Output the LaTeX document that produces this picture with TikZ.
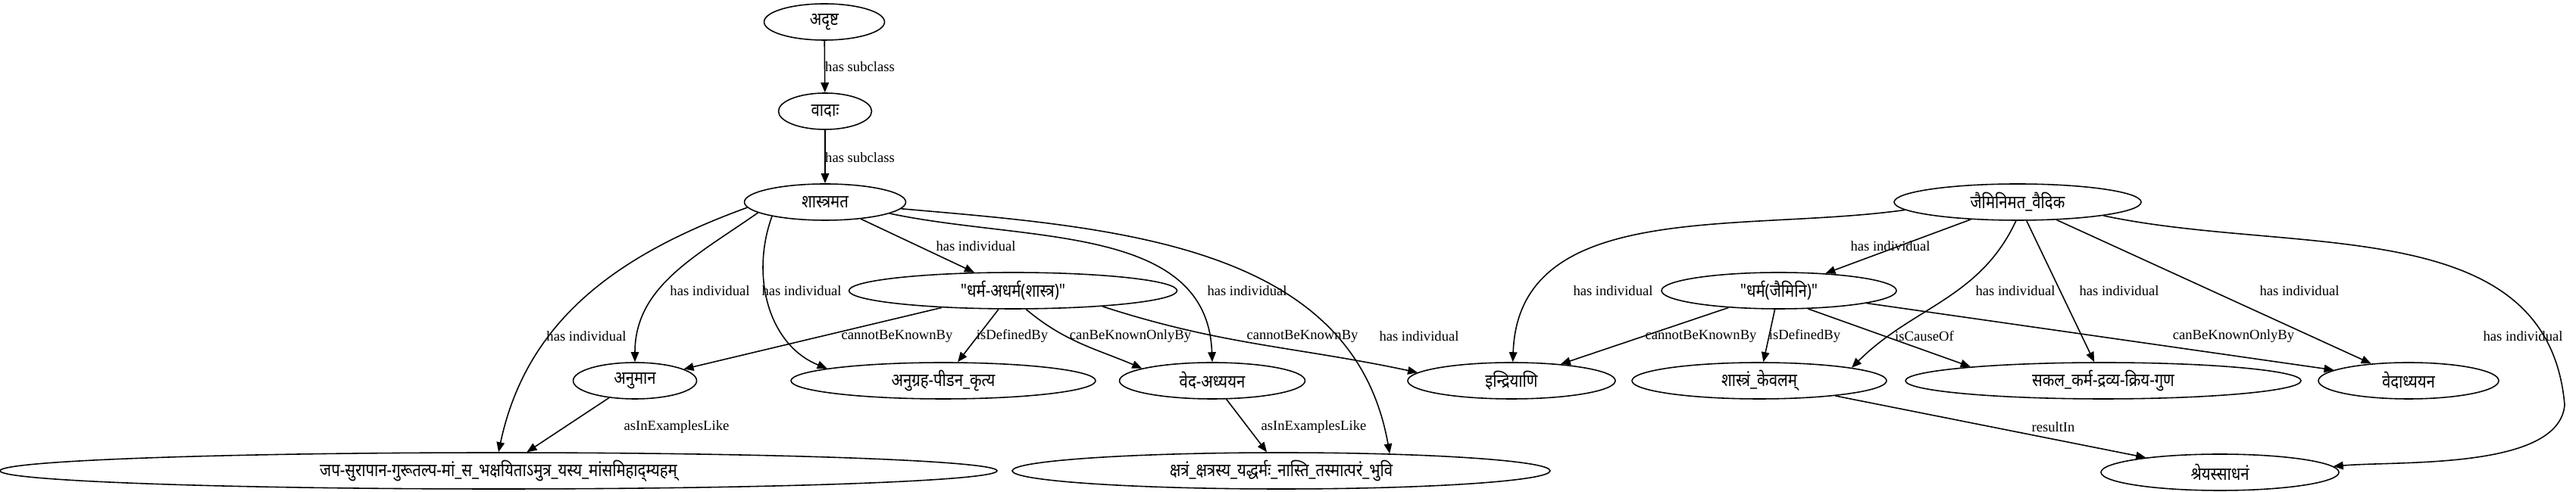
\documentclass[tikz,border=0pt]{standalone}
\usepackage{fontspec}
\setmainfont{Liberation Serif}
\newfontfamily\devfont[Script=Devanagari,FakeStretch=0.85]{Noto Sans}
\usetikzlibrary{arrows.meta,shapes.geometric}
\tikzset{
  concept/.style={ellipse,draw,line width=0.45pt,inner sep=0pt,
    minimum height=0.48cm,font=\devfont\fontsize{6.8}{7}\selectfont},
  rel/.style={-{Triangle[length=1.3mm,width=1.05mm]},line width=0.45pt},
  lbl/.style={font=\fontsize{5.3}{6}\selectfont,inner sep=0pt}
}

\begin{document}
\begin{tikzpicture}
  \useasboundingbox (0,0) rectangle (34,6.5);
  \node[concept,minimum width=1.59cm] (adrsta) at (10.88,6.21) {अदृष्ट};
  \node[concept,minimum width=1.23cm] (vada) at (10.89,5.03) {वादाः};
  \node[concept,minimum width=2.13cm] (sastramata) at (10.89,3.83) {शास्त्रमत};
  \node[concept,minimum width=4.33cm] (dharmaS) at (13.37,2.66) {"धर्म-अधर्म(शास्त्र)"};
  \node[concept,minimum width=1.63cm] (anumana) at (8.38,1.47) {अनुमान};
  \node[concept,minimum width=4.02cm] (anugraha) at (12.45,1.47) {अनुग्रह-पीडन\_कृत्य};
  \node[concept,minimum width=2.45cm] (vedaAdh) at (16.0,1.47) {वेद-अध्ययन};
  \node[concept,minimum width=2.74cm] (indriyani) at (19.95,1.47) {इन्द्रियाणि};
  \node[concept,minimum width=13.16cm] (japa) at (6.58,0.28) {जप-सुरापान-गुरूतल्प-मां\_स\_भक्षयिताऽमुत्र\_यस्य\_मांसमिहाद्म्यहम्};
  \node[concept,minimum width=7.1cm] (ksatram) at (16.91,0.28) {क्षत्रं\_क्षत्रस्य\_यद्धर्मः\_नास्ति\_तस्मात्परं\_भुवि};
  \node[concept,minimum width=3.26cm] (jaimini) at (26.63,3.83) {जैमिनिमत\_वैदिक};
  \node[concept,minimum width=3.1cm] (dharmaJ) at (23.48,2.66) {"धर्म(जैमिनि)"};
  \node[concept,minimum width=3.36cm] (kevalam) at (23.22,1.47) {शास्त्रं\_केवलम्};
  \node[concept,minimum width=5.22cm] (sakala) at (27.76,1.47) {सकल\_कर्म-द्रव्य-क्रिय-गुण};
  \node[concept,minimum width=2.38cm] (vedadhy) at (31.79,1.47) {वेदाध्ययन};
  \node[concept,minimum width=3.14cm] (sreyas) at (29.30,0.26) {श्रेयस्साधनं};
  \coordinate (bend) at (33.85,1.15);

  \draw[rel] (adrsta) -- (vada);
  \draw[rel] (vada) -- (sastramata);
  \draw[rel] (sastramata) -- (dharmaS);
  \draw[rel] (sastramata.189) to[out=215,in=90] (anumana.north);
  \draw[rel] (sastramata.195) to[out=250,in=158] (anugraha.174);
  \draw[rel] (sastramata.-10) to[out=-12,in=92] (vedaAdh.north);
  \draw[rel] (sastramata.-5) to[out=-5,in=100] (ksatram.9);
  \draw[rel] (sastramata.184) to[out=200,in=78] (japa.north);
  \draw[rel] (dharmaS) -- (anumana);
  \draw[rel] (dharmaS) -- (anugraha);
  \draw[rel] (dharmaS.-55) to[out=-40,in=157] (vedaAdh.170);
  \draw[rel] (dharmaS.-10) to[out=-18,in=168] (indriyani.175);
  \draw[rel] (anumana) -- (japa);
  \draw[rel] (vedaAdh) -- (ksatram);

  \draw[rel] (jaimini) -- (dharmaJ);
  \draw[rel] (jaimini.184) to[out=188,in=88] (indriyani.86);
  \draw[rel] (jaimini.265) to[out=245,in=45] (kevalam.8);
  \draw[rel] (jaimini) -- (sakala);
  \draw[rel] (jaimini) -- (vedadhy);
  \draw[rel] (jaimini.-9) to[out=-12,in=95] (bend) to[out=-95,in=5,looseness=0.7] (sreyas.3);
  \draw[rel] (dharmaJ) -- (indriyani);
  \draw[rel] (dharmaJ) -- (kevalam);
  \draw[rel] (dharmaJ.-32) -- (sakala.174);
  \draw[rel] (dharmaJ) -- (vedadhy);
  \draw[rel] (kevalam) -- (sreyas);

  \node[lbl] (l1) at (11.35,5.62) {has subclass};
  \node[lbl] (l2) at (11.35,4.42) {has subclass};
  \node[lbl] (l3) at (12.88,3.25) {has individual};
  \node[lbl] (l4) at (9.37,2.66) {has individual};
  \node[lbl] (l5) at (10.58,2.66) {has individual};
  \node[lbl] (l6) at (16.46,2.66) {has individual};
  \node[lbl] (l7) at (18.73,2.06) {has individual};
  \node[lbl] (l8) at (7.74,2.06) {has individual};
  \node[lbl] (l9) at (11.84,2.06) {cannotBeKnownBy};
  \node[lbl] (l10) at (13.36,2.06) {isDefinedBy};
  \node[lbl] (l11) at (14.92,2.06) {canBeKnownOnlyBy};
  \node[lbl] (l12) at (17.19,2.06) {cannotBeKnownBy};
  \node[lbl] (l13) at (8.93,0.86) {asInExamplesLike};
  \node[lbl] (l14) at (17.34,0.86) {asInExamplesLike};
  \node[lbl] (l15) at (24.95,3.25) {has individual};
  \node[lbl] (l16) at (21.29,2.66) {has individual};
  \node[lbl] (l17) at (26.60,2.66) {has individual};
  \node[lbl] (l18) at (27.97,2.66) {has individual};
  \node[lbl] (l19) at (30.35,2.66) {has individual};
  \node[lbl] (l20) at (33.30,2.06) {has individual};
  \node[lbl] (l21) at (22.45,2.06) {cannotBeKnownBy};
  \node[lbl] (l22) at (23.82,2.06) {isDefinedBy};
  \node[lbl] (l23) at (25.40,2.06) {isCauseOf};
  \node[lbl] (l24) at (29.48,2.06) {canBeKnownOnlyBy};
  \node[lbl] (l25) at (27.10,0.86) {resultIn};
\end{tikzpicture}
\end{document}
